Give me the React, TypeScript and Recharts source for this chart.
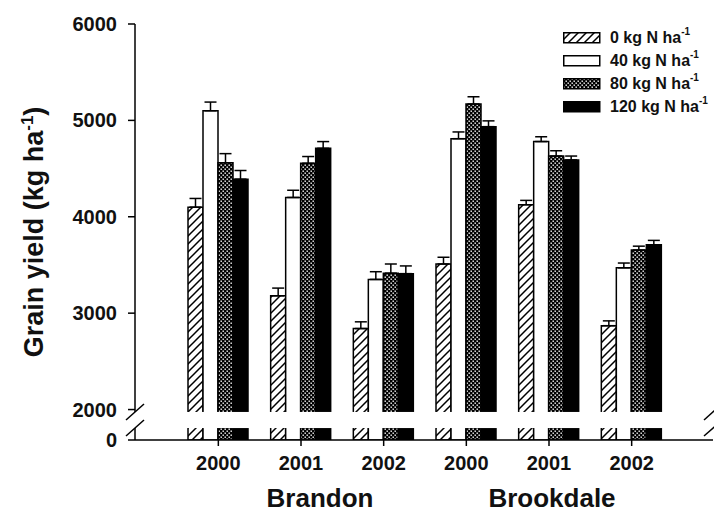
import React from "react";
import { ComposedChart, Bar, XAxis, YAxis, ErrorBar, Legend, ReferenceArea } from "recharts";

const YEARS = ["2000", "2001", "2002", "2000", "2001", "2002"];
const SITES = ["Brandon", "Brandon", "Brandon", "Brookdale", "Brookdale", "Brookdale"];

// grain yield, kg/ha, and standard errors
const N0 = [4100, 3180, 2840, 3510, 4125, 2870];
const N0_SE = [90, 80, 70, 70, 45, 50];
const N40 = [5100, 4200, 3350, 4810, 4780, 3470];
const N40_SE = [90, 75, 80, 70, 50, 50];
const N80 = [4560, 4555, 3415, 5170, 4630, 3655];
const N80_SE = [95, 70, 95, 75, 55, 40];
const N120 = [4390, 4710, 3410, 4935, 4590, 3710];
const N120_SE = [90, 70, 80, 60, 40, 45];

const Y_TICKS = [2000, 3000, 4000, 5000, 6000];

// broken axis: the bottom of the plot stands for 0, the short piece below 2000
const AXIS_ZERO = 1684;
const BREAK_LOW = 1808;
const BREAK_HIGH = 1975;

const FONT = "'Liberation Sans', Arial, Helvetica, sans-serif";

const SERIES = [
  { key: "n0", se: "n0se", label: "0 kg N ha", fill: "url(#hatch)" },
  { key: "n40", se: "n40se", label: "40 kg N ha", fill: "#fff" },
  { key: "n80", se: "n80se", label: "80 kg N ha", fill: "url(#dots)" },
  { key: "n120", se: "n120se", label: "120 kg N ha", fill: "#000" },
];

const data = YEARS.map((year, i) => ({
  key: `${SITES[i]} ${year}`,
  n0: N0[i],
  n0se: [0, N0_SE[i]],
  n40: N40[i],
  n40se: [0, N40_SE[i]],
  n80: N80[i],
  n80se: [0, N80_SE[i]],
  n120: N120[i],
  n120se: [0, N120_SE[i]],
}));

const BreakShape = (props: any) => {
  const { x, y, width, height } = props;
  const marks: React.ReactNode[] = [];
  [x, x + width].forEach((ax: number, i: number) => {
    [y, y + height].forEach((yy: number, j: number) => {
      marks.push(
        <line key={`${i}-${j}`} x1={ax - 9} y1={yy + 8} x2={ax + 9} y2={yy - 8} stroke="#000" strokeWidth={1.5} />
      );
    });
  });
  return (
    <g>
      <rect x={x - 12} y={y} width={width + 24} height={height} fill="#fff" />
      {marks}
    </g>
  );
};

const SiteLabels = () => (
  <g fontFamily={FONT} fontWeight="bold" fontSize={26} fill="#111" textAnchor="middle">
    <text x={320} y={507}>Brandon</text>
    <text x={552} y={507}>Brookdale</text>
  </g>
);

const YLabel = () => (
  <text
    transform="translate(43,232) rotate(-90)"
    textAnchor="middle"
    fontFamily={FONT}
    fontWeight="bold"
    fontSize={27}
    fill="#111"
  >
    Grain yield (kg ha
    <tspan dy={-10} fontSize={17}>-1</tspan>
    <tspan dy={10}>)</tspan>
  </text>
);

const LegendContent = () => (
  <div style={{ fontFamily: FONT, fontWeight: "bold", fontSize: 16, color: "#111" }}>
    {SERIES.map((s) => (
      <div key={s.key} style={{ display: "flex", alignItems: "center", height: 23 }}>
        <svg width={38} height={12} style={{ marginRight: 9 }}>
          <rect x={0.75} y={0.75} width={36} height={10} fill={s.fill} stroke="#000" strokeWidth={1.5} />
        </svg>
        <span>
          {s.label}
          <sup style={{ fontSize: 10, position: "relative", top: -2 }}>-1</sup>
        </span>
      </div>
    ))}
  </div>
);

export default function App() {
  const axisStroke = { stroke: "#000", strokeWidth: 1.5 };
  const tickStyle = { fontSize: 20, fontWeight: "bold", fill: "#111", fontFamily: FONT };
  return (
    <div style={{ width: 714, height: 514, background: "#fff" }}>
      <style>{`body{margin:0}`}</style>
      <ComposedChart
        width={714}
        height={514}
        data={data}
        margin={{ top: 24, right: 1, bottom: 0, left: 0 }}
        barGap={0}
        barSize={15}
      >
        <defs>
          <pattern id="hatch" patternUnits="userSpaceOnUse" width={8} height={8}>
            <rect width={8} height={8} fill="#fff" />
            <path d="M-2,2 L2,-2 M0,8 L8,0 M6,10 L10,6" stroke="#000" strokeWidth={1.5} />
          </pattern>
          <pattern id="dots" patternUnits="userSpaceOnUse" width={4} height={4}>
            <rect width={4} height={4} fill="#000" />
            <rect x={0.5} y={0.5} width={1.4} height={1.4} fill="#fff" />
            <rect x={2.5} y={2.5} width={1.4} height={1.4} fill="#fff" />
          </pattern>
        </defs>
        <XAxis
          dataKey="key"
          height={74}
          padding={{ left: 42, right: 40 }}
          tickFormatter={(v: string) => v.split(" ")[1]}
          tick={tickStyle}
          tickSize={6}
          tickMargin={10}
          tickLine={axisStroke}
          axisLine={axisStroke}
          label={<SiteLabels />}
        />
        <XAxis xAxisId="top" orientation="top" dataKey="key" height={0} tick={false} tickLine={false} axisLine={axisStroke} />
        <YAxis
          width={135}
          domain={[AXIS_ZERO, 6000]}
          ticks={[AXIS_ZERO, ...Y_TICKS]}
          tickFormatter={(v: number) => (v === AXIS_ZERO ? "0" : String(v))}
          allowDataOverflow
          tick={tickStyle}
          tickSize={7}
          tickMargin={11}
          tickLine={axisStroke}
          axisLine={axisStroke}
          label={<YLabel />}
        />
        <YAxis yAxisId="right" orientation="right" width={0} domain={[0, 1]} tick={false} tickLine={false} axisLine={axisStroke} />
        <Legend
          verticalAlign="middle"
          align="center"
          layout="horizontal"
          content={<LegendContent />}
          wrapperStyle={{ top: 26, left: 563, width: 150 }}
        />
        {SERIES.map((s) => (
          <Bar key={s.key} dataKey={s.key} name={s.label} fill={s.fill} stroke="#000" strokeWidth={1.5} isAnimationActive={false}>
            <ErrorBar dataKey={s.se} width={6} stroke="#000" strokeWidth={1.5} direction="y" isAnimationActive={false} />
          </Bar>
        ))}
        <ReferenceArea
          xAxisId="top"
          y1={BREAK_LOW}
          y2={BREAK_HIGH}
          ifOverflow="visible"
          shape={<BreakShape />}
          zIndex={2500}
        />
      </ComposedChart>
    </div>
  );
}
